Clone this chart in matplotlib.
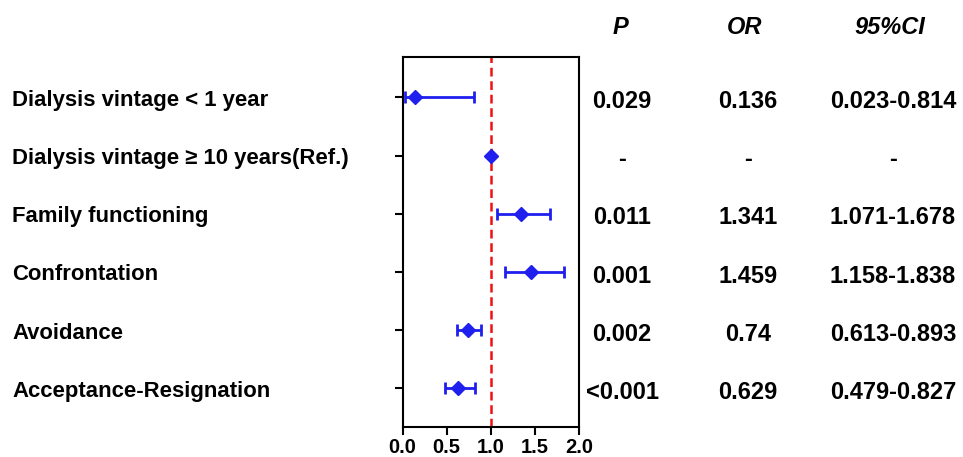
import matplotlib
matplotlib.use("Agg")
import matplotlib.pyplot as plt
from matplotlib.transforms import blended_transform_factory

plt.rcParams['font.family'] = ['Liberation Sans', 'DejaVu Sans']
plt.rcParams['font.weight'] = 'bold'

labels = ["Dialysis vintage < 1 year",
          "Dialysis vintage \u2265 10 years(Ref.)",
          "Family functioning",
          "Confrontation",
          "Avoidance",
          "Acceptance-Resignation"]
or_vals = [0.136, 1.0, 1.341, 1.459, 0.74, 0.629]
ci_low = [0.023, 1.0, 1.071, 1.158, 0.613, 0.479]
ci_high = [0.814, 1.0, 1.678, 1.838, 0.893, 0.827]
p_text = ["0.029", "-", "0.011", "0.001", "0.002", "<0.001"]
or_text = ["0.136", "-", "1.341", "1.459", "0.74", "0.629"]
ci_text = ["0.023-0.814", "-", "1.071-1.678", "1.158-1.838", "0.613-0.893", "0.479-0.827"]
headers = ["P", "OR", "95%CI"]
xticks = [0.0, 0.5, 1.0, 1.5, 2.0]

fig = plt.figure(figsize=(9.63, 4.57), dpi=100)
ax = fig.add_axes([0.418, 0.066, 0.183, 0.810])

ypos = list(range(1, len(labels) + 1))
xerr_lo = [o - l for o, l in zip(or_vals, ci_low)]
xerr_hi = [h - o for o, h in zip(or_vals, ci_high)]
blue = '#1f1fee'
ax.errorbar(or_vals, ypos, xerr=[xerr_lo, xerr_hi], fmt='D', color=blue,
            ecolor=blue, elinewidth=2.0, capsize=4.5, capthick=2.0,
            markersize=7.5, zorder=3)
ax.axvline(1.0, color='#ee1111', linestyle=(0, (3.5, 1.9)), linewidth=1.8, zorder=2)

ax.set_xlim(0, 2.0)
ax.set_ylim(6.66, 0.30)
ax.set_xticks(xticks)
ax.set_xticklabels([f"{t:.1f}" for t in xticks])
ax.set_yticks(ypos)
ax.set_yticklabels([])
for s in ax.spines.values():
    s.set_linewidth(1.5)
ax.tick_params(axis='both', direction='out', length=6, width=1.5, pad=2,
               labelsize=14.5)
for t in ax.get_xticklabels():
    t.set_fontweight('bold')

tr = blended_transform_factory(fig.transFigure, ax.transData)
for y, lab in zip(ypos, labels):
    fig.text(12 / 963, y + 0.05, lab, transform=tr, ha='left', va='center',
             fontsize=15.9, fontweight='bold')

col_x = [622 / 963, 748 / 963, 893 / 963]
for y, p, o, c in zip(ypos, p_text, or_text, ci_text):
    for cx, t in zip(col_x, [p, o, c]):
        fig.text(cx, y + 0.07, t, transform=tr, ha='center', va='center',
                 fontsize=17, fontweight='bold')

head_x = [620 / 963, 745 / 963, 890 / 963]
for hx, h in zip(head_x, headers):
    fig.text(hx, 1 - 27 / 457, h, ha='center', va='center', fontsize=17,
             fontweight='bold', fontstyle='italic')

fig.savefig("out.png", dpi=100)
